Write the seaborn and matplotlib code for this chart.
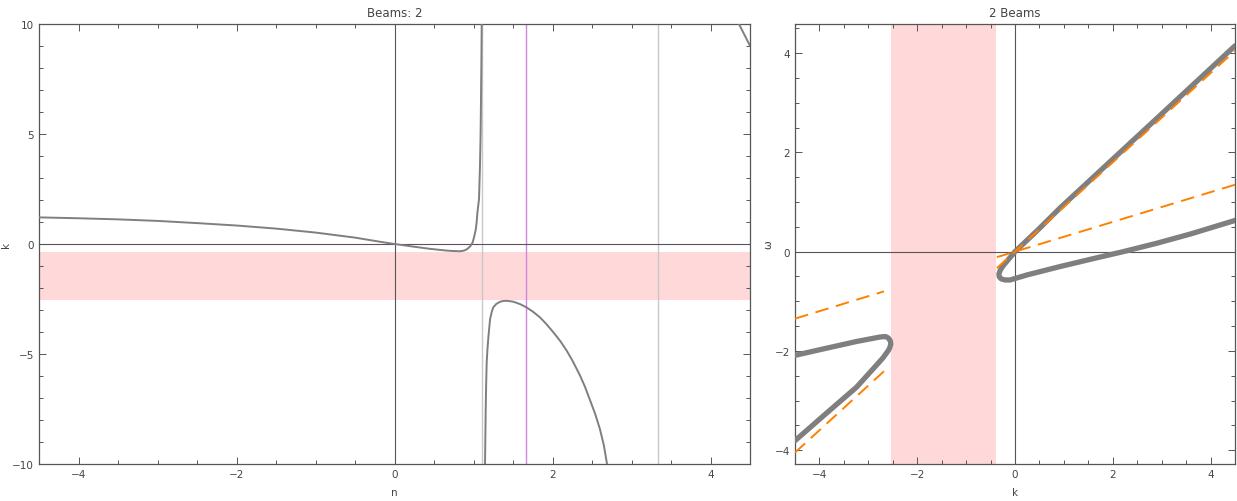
import numpy as np
import pandas as pd
import matplotlib
matplotlib.use("Agg")
import matplotlib.pyplot as plt
from matplotlib.ticker import MultipleLocator
import seaborn as sns

# ---- left panel: k(n) ----
n_b1 = [-4.5, -4.0, -3.5, -3.0, -2.5, -2.0, -1.5, -1.0, -0.5, -0.18, 0.0, 0.24, 0.45,
        0.66, 0.75, 0.83, 0.88, 0.92, 0.96, 0.99, 1.01, 1.03, 1.04, 1.05, 1.06, 1.07,
        1.076, 1.082, 1.09, 1.095, 1.10, 1.104]
k_b1 = [1.21, 1.17, 1.12, 1.05, 0.95, 0.84, 0.70, 0.52, 0.29, 0.10, 0.0, -0.12, -0.22,
        -0.30, -0.32, -0.33, -0.30, -0.23, -0.10, 0.08, 0.35, 0.68, 1.0, 1.44, 1.75, 2.05,
        2.8, 3.56, 5.0, 6.6, 8.3, 10.0]
n_b2 = [1.146, 1.150, 1.154, 1.160, 1.167, 1.178, 1.19, 1.21, 1.23, 1.25, 1.29, 1.34,
        1.38, 1.42, 1.50, 1.55, 1.60, 1.67, 1.75, 1.84, 1.92, 2.01, 2.10, 2.18, 2.26,
        2.35, 2.41, 2.47, 2.54, 2.60, 2.65, 2.69]
k_b2 = [-10.0, -8.8, -7.65, -6.4, -5.38, -4.7, -4.17, -3.41, -3.10, -2.88, -2.72, -2.62,
        -2.59, -2.58, -2.62, -2.68, -2.75, -2.88, -3.07, -3.33, -3.63, -4.01, -4.42, -4.85,
        -5.35, -5.99, -6.48, -7.05, -7.72, -8.41, -9.15, -10.0]
n_b3 = [4.36, 4.5]
k_b3 = [10.0, 9.01]
n_grey_lines = [1.11, 3.33]
n_purple_line = 1.667
k_band = (-2.53, -0.37)

# ---- right panel: omega(k) ----
k_loop1 = [4.5, 2.97, 0.92, 0.48, 0.0, -0.24, -0.30, -0.33, -0.32, -0.28, -0.20, -0.10,
           0.24, 0.92, 1.60, 2.21, 2.90, 3.60, 4.5]
w_loop1 = [4.15, 2.75, 0.88, 0.45, 0.0, -0.28, -0.37, -0.45, -0.51, -0.55, -0.57, -0.57,
           -0.47, -0.30, -0.14, 0.0, 0.17, 0.36, 0.63]
k_loop2 = [-4.5, -3.92, -3.24, -2.76, -2.65, -2.59, -2.55, -2.54, -2.56, -2.59, -2.70,
           -2.90, -3.24, -3.92, -4.5]
w_loop2 = [-2.09, -1.96, -1.81, -1.72, -1.71, -1.74, -1.80, -1.86, -1.93, -1.99, -2.14,
           -2.36, -2.73, -3.31, -3.81]
# dashed asymptotes (segment endpoints)
dash_k = [[-4.5, -2.68], [-0.37, 4.5], [-4.5, -2.68], [-0.37, 4.5]]
dash_w = [[-4.05, -2.41], [-0.33, 4.05], [-1.35, -0.80], [-0.11, 1.35]]
w_band = (-2.53, -0.39)

left_df = pd.DataFrame({
    "n": n_b1 + n_b2 + n_b3,
    "k": k_b1 + k_b2 + k_b3,
    "branch": [1] * len(n_b1) + [2] * len(n_b2) + [3] * len(n_b3),
})
right_df = pd.DataFrame({
    "k": k_loop1 + k_loop2,
    "w": w_loop1 + w_loop2,
    "branch": [1] * len(k_loop1) + [2] * len(k_loop2),
})
dash_df = pd.DataFrame({
    "k": sum(dash_k, []),
    "w": sum(dash_w, []),
    "seg": [i for i in range(len(dash_k)) for _ in range(2)],
})

sns.set_style("ticks")
plt.rcParams["font.family"] = ["DejaVu Sans"]
axis_col = "#555555"
text_col = "#444444"
curve_col = "#7f7f7f"

fig = plt.figure(figsize=(12.37, 5.02), dpi=100)
ax1 = fig.add_axes([39 / 1237, 37 / 502, 711 / 1237, 440 / 502])
ax2 = fig.add_axes([795 / 1237, 37 / 502, 440 / 1237, 440 / 502])

# left
ax1.axhspan(k_band[0], k_band[1], color="#ffd9d9", lw=0, zorder=0)
for x in n_grey_lines:
    ax1.axvline(x, color="#c8c8c8", lw=1.0, zorder=1)
ax1.axvline(n_purple_line, color="#cc88dd", lw=1.0, zorder=1)
ax1.axhline(0, color=axis_col, lw=0.8, zorder=1)
ax1.axvline(0, color=axis_col, lw=0.8, zorder=1)
sns.lineplot(data=left_df, x="n", y="k", units="branch", estimator=None, sort=False,
             color=curve_col, lw=1.4, ax=ax1, zorder=3)
ax1.set_xlim(-4.5, 4.5)
ax1.set_ylim(-10, 10)
ax1.xaxis.set_major_locator(MultipleLocator(2))
ax1.xaxis.set_minor_locator(MultipleLocator(0.5))
ax1.yaxis.set_major_locator(MultipleLocator(5))
ax1.yaxis.set_minor_locator(MultipleLocator(1))
ax1.set_xlabel("n", color=text_col, fontsize=7.5)
ax1.set_ylabel("k", color=text_col, fontsize=7.5)
ax1.xaxis.set_label_coords(0.5, -0.052)
ax1.yaxis.set_label_coords(-0.040, 0.5)
ax1.set_title("Beams: 2", color=text_col, fontsize=8.5, pad=6)

# right
ax2.axvspan(w_band[0], w_band[1], color="#ffd9d9", lw=0, zorder=0)
ax2.axhline(0, color=axis_col, lw=0.8, zorder=1)
ax2.axvline(0, color=axis_col, lw=0.8, zorder=1)
sns.lineplot(data=right_df, x="k", y="w", units="branch", estimator=None, sort=False,
             color=curve_col, lw=3.8, ax=ax2, zorder=3)
sns.lineplot(data=dash_df, x="k", y="w", units="seg", estimator=None, sort=False,
             color="#ff8000", lw=1.4, ax=ax2, zorder=4)
for line in ax2.get_lines()[-len(dash_k):]:
    line.set_dashes([7, 4])
for line in ax2.get_lines()[2:2 + 2]:
    line.set_solid_joinstyle("round")
    line.set_solid_capstyle("round")
ax2.set_xlim(-4.5, 4.5)
ax2.set_ylim(-4.28, 4.59)
ax2.xaxis.set_major_locator(MultipleLocator(2))
ax2.xaxis.set_minor_locator(MultipleLocator(0.5))
ax2.yaxis.set_major_locator(MultipleLocator(2))
ax2.yaxis.set_minor_locator(MultipleLocator(0.5))
ax2.set_xlabel("k", color=text_col, fontsize=7.5)
ax2.set_ylabel("ω", color=text_col, fontsize=7.5)
ax2.xaxis.set_label_coords(0.5, -0.052)
ax2.yaxis.set_label_coords(-0.050, 0.5)
ax2.set_title("2 Beams", color=text_col, fontsize=8.5, pad=6)

for ax in (ax1, ax2):
    for sp in ax.spines.values():
        sp.set_visible(True)
        sp.set_color(axis_col)
        sp.set_linewidth(0.9)
    ax.tick_params(which="both", direction="in", top=True, right=True,
                   colors=axis_col, labelcolor=text_col, labelsize=7.5, width=0.7)
    ax.tick_params(which="major", length=5)
    ax.tick_params(which="minor", length=3)
    lg = ax.get_legend()
    if lg is not None:
        lg.remove()

fig.savefig("out.png", dpi=100)
